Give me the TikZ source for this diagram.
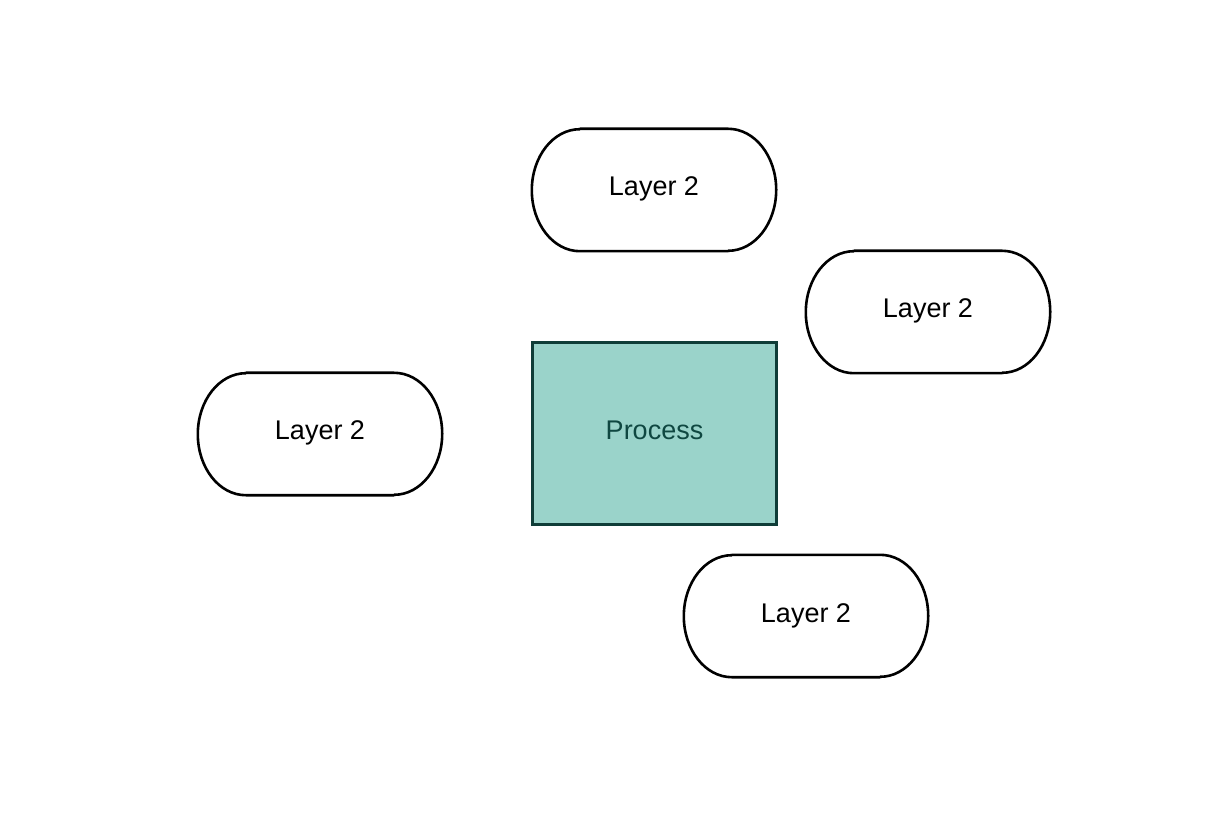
\documentclass[tikz,border=0pt]{standalone}
\usepackage{fontspec}
\setmainfont{Liberation Sans}
\definecolor{procfill}{HTML}{9AD3CA}
\definecolor{procline}{HTML}{0F3D38}
\definecolor{proctext}{HTML}{0F4741}
\tikzset{
  shapebox/.style={minimum width=244pt, minimum height=122pt, inner sep=0pt, draw=none},
  termline/.style={line width=2.6pt, black, fill=white, line join=round},
  lbl/.style={anchor=base, inner sep=0pt, font=\fontsize{27pt}{30pt}\selectfont},
  procbox/.style={minimum width=244pt, minimum height=182pt, inner sep=0pt, draw=procline, line width=2.6pt, fill=procfill},
}
\newcommand{\termshape}[3]{%
  \node[shapebox] (#1) at (#2,#3) {};
  \draw[termline] ([xshift=48pt]#1.north west) -- ([xshift=-48pt]#1.north east)
    arc[start angle=90, end angle=-90, x radius=48pt, y radius=61pt]
    -- ([xshift=-48pt]#1.south east)
    -- ([xshift=48pt]#1.south west)
    arc[start angle=270, end angle=90, x radius=48pt, y radius=61pt] -- cycle;
  \node[lbl] (#1-t) at ([yshift=-6pt]#1.center) {Layer 2};
}
\begin{document}
\begin{tikzpicture}[x=1pt, y=1pt]
\useasboundingbox[fill=white] (0,0) rectangle (1222,836);
\termshape{top}{654}{646}
\termshape{right}{928}{524}
\termshape{left}{320}{402}
\termshape{bottom}{806}{220}
\node[procbox] (proc) at (654.5,402.5) {};
\node[lbl, text=proctext] (proc-t) at ([yshift=-6.5pt]proc.center) {Process};
\end{tikzpicture}
\end{document}
